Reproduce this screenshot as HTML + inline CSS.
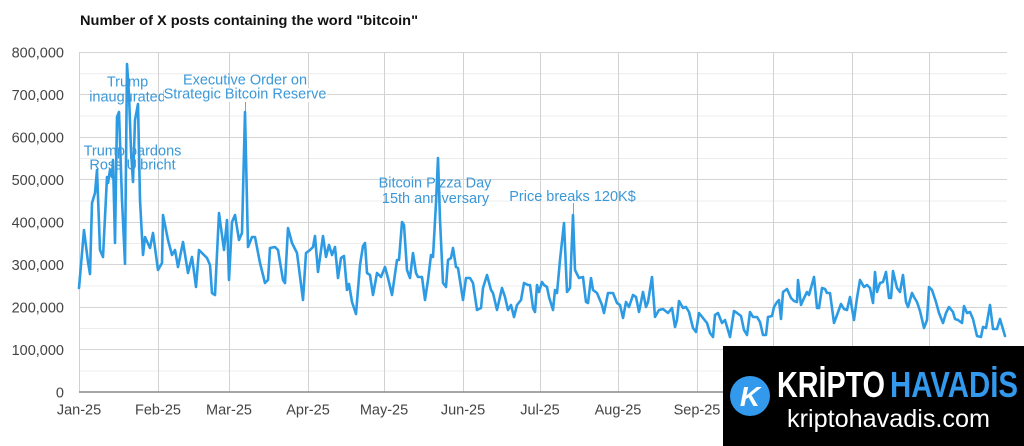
<!DOCTYPE html>
<html>
<head>
<meta charset="utf-8">
<style>
html,body{margin:0;padding:0;background:#fff;}
svg{display:block;}
text{font-family:"Liberation Sans",Arial,sans-serif;}
</style>
</head>
<body>
<svg width="1024" height="446" viewBox="0 0 1024 446" xmlns="http://www.w3.org/2000/svg">
<rect width="1024" height="446" fill="#fff"/>
<!-- title -->
<text x="80" y="25" font-size="13.5" font-weight="bold" fill="#111" textLength="338" lengthAdjust="spacingAndGlyphs">Number of X posts containing the word "bitcoin"</text>

<!-- horizontal gridlines -->
<g stroke-width="1">
<line x1="79" y1="52.5" x2="1007" y2="52.5" stroke="#d4d4d4"/>
<line x1="79" y1="73.75" x2="1007" y2="73.75" stroke="#ececec"/>
<line x1="79" y1="94.5" x2="1007" y2="94.5" stroke="#d4d4d4"/>
<line x1="79" y1="116" x2="1007" y2="116" stroke="#ececec"/>
<line x1="79" y1="137.5" x2="1007" y2="137.5" stroke="#d4d4d4"/>
<line x1="79" y1="158.5" x2="1007" y2="158.5" stroke="#ececec"/>
<line x1="79" y1="179.5" x2="1007" y2="179.5" stroke="#d4d4d4"/>
<line x1="79" y1="201" x2="1007" y2="201" stroke="#ececec"/>
<line x1="79" y1="222.5" x2="1007" y2="222.5" stroke="#d4d4d4"/>
<line x1="79" y1="243.5" x2="1007" y2="243.5" stroke="#ececec"/>
<line x1="79" y1="264.5" x2="1007" y2="264.5" stroke="#d4d4d4"/>
<line x1="79" y1="286" x2="1007" y2="286" stroke="#ececec"/>
<line x1="79" y1="307.5" x2="1007" y2="307.5" stroke="#d4d4d4"/>
<line x1="79" y1="328.5" x2="1007" y2="328.5" stroke="#ececec"/>
<line x1="79" y1="349.5" x2="1007" y2="349.5" stroke="#d4d4d4"/>
<line x1="79" y1="371" x2="1007" y2="371" stroke="#ececec"/>
</g>
<!-- vertical gridlines -->
<g stroke="#d2d2d2" stroke-width="1">
<line x1="79.5" y1="52" x2="79.5" y2="392"/>
<line x1="158.5" y1="52" x2="158.5" y2="392"/>
<line x1="229.5" y1="52" x2="229.5" y2="392"/>
<line x1="308.5" y1="52" x2="308.5" y2="392"/>
<line x1="384.5" y1="52" x2="384.5" y2="392"/>
<line x1="463.5" y1="52" x2="463.5" y2="392"/>
<line x1="540.5" y1="52" x2="540.5" y2="392"/>
<line x1="618.5" y1="52" x2="618.5" y2="392"/>
<line x1="697.5" y1="52" x2="697.5" y2="392"/>
<line x1="773.5" y1="52" x2="773.5" y2="392"/>
<line x1="852.5" y1="52" x2="852.5" y2="392"/>
<line x1="929.5" y1="52" x2="929.5" y2="392"/>
</g>
<!-- zero axis -->
<line x1="79" y1="392" x2="1007" y2="392" stroke="#8a8a8a" stroke-width="1.5"/>

<!-- y labels -->
<g font-size="14.5" fill="#444" text-anchor="end">
<text x="64" y="57.5">800,000</text>
<text x="64" y="100">700,000</text>
<text x="64" y="142.5">600,000</text>
<text x="64" y="185">500,000</text>
<text x="64" y="227.5">400,000</text>
<text x="64" y="270">300,000</text>
<text x="64" y="312.5">200,000</text>
<text x="64" y="355">100,000</text>
<text x="64" y="397.5">0</text>
</g>
<!-- x labels -->
<g font-size="14.5" fill="#444" text-anchor="middle">
<text x="79" y="414.5">Jan-25</text>
<text x="158" y="414.5">Feb-25</text>
<text x="229" y="414.5">Mar-25</text>
<text x="308" y="414.5">Apr-25</text>
<text x="384" y="414.5">May-25</text>
<text x="463" y="414.5">Jun-25</text>
<text x="540" y="414.5">Jul-25</text>
<text x="618" y="414.5">Aug-25</text>
<text x="697" y="414.5">Sep-25</text>
<text x="773" y="414.5">Oct-25</text>
</g>

<!-- leader lines -->
<g stroke="#9a9a9a" stroke-width="1">
<line x1="245.5" y1="101" x2="245.5" y2="112"/>
<line x1="573.5" y1="203" x2="573.5" y2="215"/>
</g>

<!-- data line -->
<polyline fill="none" stroke="#2d9be3" stroke-width="2.6" stroke-linejoin="round" stroke-linecap="round" points="
79,288 84,230 88,262 90,274 92,203 95,193 97,170 100,250 103,257 107,177 108,183 110,170 112,177 113,160 115,243 117,117 119,112 122,200 125,264 127,64 129,95 131,150 133,182 135,120 138,104 140,200 142,237 143,255 145,237 150,248 153,233 158,270 162,263 163,215 168,240 172,255 175,250 178,267 183,242 188,273 192,257 196,287 199,250 207,258 210,265 212,293 215,295 219,213 224,250 227,220 229,280 232,222 235,215 239,240 242,233 245,112 248,247 252,237 255,237 260,263 265,283 268,280 270,248 275,247 278,250 283,280 285,283 288,228 292,243 297,253 303,300 306,253 310,250 313,247 315,236 318,272 323,236 326,257 329,245 332,255 335,247 338,278 341,258 344,256 347,290 349,284 352,302 356,314 360,265 363,246 365,243 367,273 370,275 373,295 377,273 381,277 385,267 388,278 392,295 397,260 399,260 402,222 404,225 407,270 410,278 413,253 416,273 418,277 422,277 425,300 428,280 431,255 433,257 436,203 438,158 440,220 443,283 446,287 448,260 451,258 453,248 456,267 458,268 463,300 466,278 470,278 473,283 477,310 481,308 483,288 487,275 491,290 493,293 497,310 502,288 505,297 508,310 511,305 514,317 517,305 521,300 524,283 528,285 530,285 533,308 535,312 537,285 539,292 542,282 544,285 547,287 549,297 553,310 555,290 557,293 560,260 564,223 567,292 570,288 573,215 575,270 579,278 583,277 586,302 588,303 591,278 593,290 597,293 602,305 604,313 608,293 613,293 617,303 620,305 623,318 626,302 629,307 633,295 636,297 639,312 643,292 646,307 648,302 652,277 655,317 659,310 663,309 668,313 672,308 675,327 677,320 679,301 683,308 686,307 689,312 693,328 696,332 699,313 703,318 707,323 710,333 713,337 715,315 718,313 722,323 725,320 730,337 734,311 737,313 741,316 744,330 747,335 750,312 753,317 757,317 760,322 763,335 766,335 768,317 772,316 774,307 777,302 779,300 781,319 783,292 787,289 791,298 794,301 797,302 798,280 801,305 804,298 807,292 809,295 814,277 817,308 819,308 822,288 825,289 827,293 830,293 834,323 837,315 841,304 844,309 847,310 850,297 854,320 857,298 860,280 864,287 867,285 870,288 873,303 875,272 877,292 880,283 883,282 886,272 889,298 891,298 893,271 897,288 900,292 903,275 906,302 908,307 912,293 914,297 917,302 920,311 924,328 927,320 929,287 932,290 936,302 939,313 943,323 946,313 949,307 953,312 955,319 958,320 962,323 964,306 967,313 970,312 973,319 977,336 981,337 983,327 986,328 990,305 993,329 997,329 1000,319 1005,336"/>

<!-- annotations -->
<g font-size="14.5" fill="#3b98d8" text-anchor="middle">
<text x="127.5" y="86.5">Trump</text>
<text x="127.5" y="101.5">inaugurated</text>
<text x="245" y="84.5">Executive Order on</text>
<rect x="164" y="88" width="163" height="14" fill="#fff"/>
<text x="245" y="98.5">Strategic Bitcoin Reserve</text>
<text x="132.5" y="155.5">Trump pardons</text>
<text x="132.5" y="169.5">Ross Ulbricht</text>
<text x="435" y="187.5">Bitcoin Pizza Day</text>
<text x="435.5" y="203">15th anniversary</text>
<text x="572.5" y="201">Price breaks 120K$</text>
</g>

<!-- watermark -->
<rect x="723" y="346" width="301" height="100" fill="#000"/>
<circle cx="750" cy="396" r="20" fill="#3399ec"/>
<text x="750" y="406" font-family="'Liberation Serif',serif" font-size="28" font-weight="bold" font-style="italic" fill="#fff" text-anchor="middle">K</text>
<text x="777" y="397" font-size="36" font-weight="bold" fill="#fff" textLength="108" lengthAdjust="spacingAndGlyphs">KRİPTO</text>
<text x="890" y="397" font-size="36" font-weight="bold" fill="#3399ec" textLength="128" lengthAdjust="spacingAndGlyphs">HAVADİS</text>
<text x="787" y="427" font-size="25" fill="#fff" textLength="203" lengthAdjust="spacingAndGlyphs">kriptohavadis.com</text>
</svg>
</body>
</html>
